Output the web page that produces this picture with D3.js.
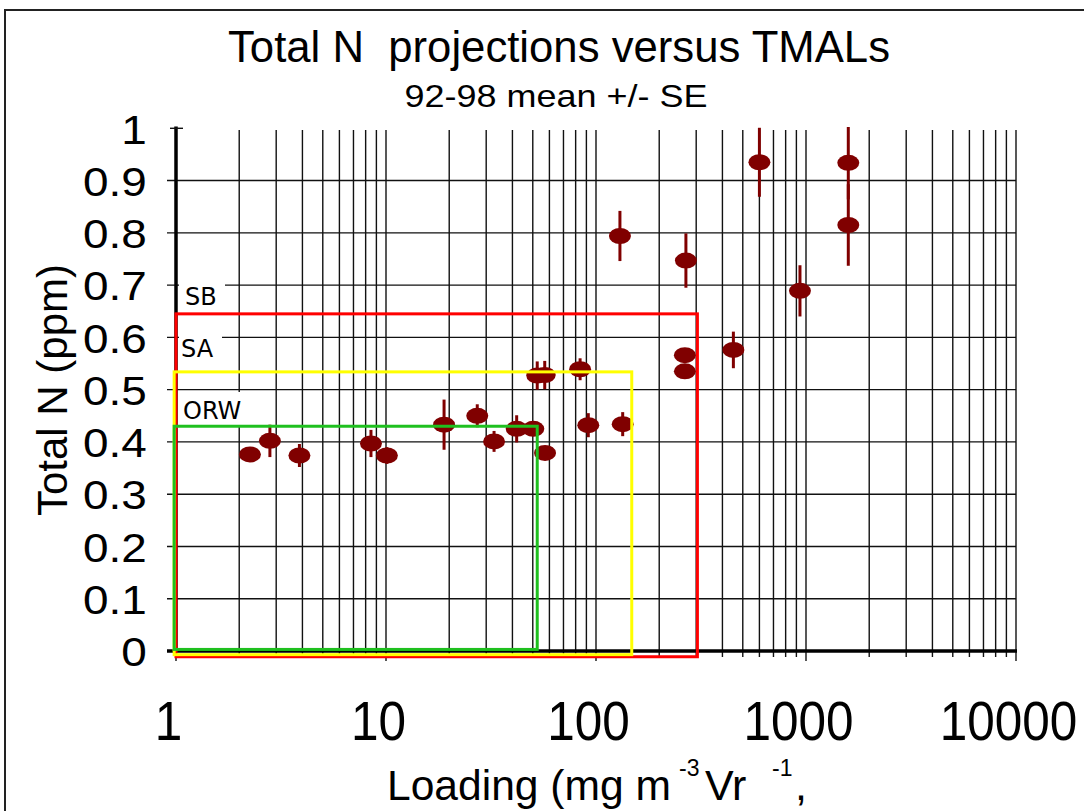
<!DOCTYPE html>
<html>
<head>
<meta charset="utf-8">
<script src="https://cdn.jsdelivr.net/npm/d3@7"></script>
<style>
  body { margin: 0; background: #fff; }
  svg { display: block; font-family: "Liberation Sans", Arial, sans-serif; }
</style>
</head>
<body>
<div id="chart"></div>
<script>
// data: loading (x), mean total N (y), standard error
var loading = [2.25, 2.8, 3.87, 8.48, 10.1, 18.9, 27.2, 32.7, 41.9, 50.3, 57.2,
               52.5, 57, 84, 91.9, 134, 130, 265, 265, 268, 451, 600, 936, 1590, 1590];
var totalN  = [0.376, 0.402, 0.374, 0.397, 0.374, 0.433, 0.45, 0.401, 0.425, 0.425, 0.379,
               0.527, 0.528, 0.539, 0.432, 0.434, 0.794, 0.566, 0.535, 0.747, 0.576, 0.935, 0.689, 0.934, 0.815];
var stdErr  = [0.012, 0.031, 0.022, 0.026, 0.016, 0.048, 0.022, 0.02, 0.026, 0.012, 0.01,
               0.027, 0.027, 0.021, 0.023, 0.023, 0.048, 0.01, 0.01, 0.052, 0.035, 0.066, 0.049, 0.07, 0.078];

// criteria boxes (SB, SA, ORW)
var boxNames = ["SB", "SA", "ORW"];
var boxLoadMin = [1, 0.98, 0.98];
var boxLoadMax = [304, 148, 52.5];
var boxNMin = [-0.011, -0.007, 0.003];
var boxNMax = [0.645, 0.534, 0.43];
var boxColors = ["#ff0000", "#ffff00", "#1fc01f"];

var yTicks = [0, 0.1, 0.2, 0.3, 0.4, 0.5, 0.6, 0.7, 0.8, 0.9, 1];
var yTickLabels = ["0", "0.1", "0.2", "0.3", "0.4", "0.5", "0.6", "0.7", "0.8", "0.9", "1"];
var xMajor = [1, 10, 100, 1000, 10000];
var xMajorLabels = ["1", "10", "100", "1000", "10000"];

var width = 1084, height = 811;

var svg = d3.select("#chart").append("svg")
  .attr("width", width)
  .attr("height", height);

svg.append("rect").attr("width", width).attr("height", height).attr("fill", "#fff");

// outer frame (top and left only)
svg.append("path")
  .attr("d", "M5,811 L5,10 L1084,10")
  .attr("fill", "none")
  .attr("stroke", "#222")
  .attr("stroke-width", 2);

var x = d3.scaleLog().domain([1, 10000]).range([176, 1016]);
var y = d3.scaleLinear().domain([0, 1]).range([651, 128.3]);

// vertical grid lines (every minor log tick)
var xGrid = x.ticks();
svg.append("g").selectAll("line")
  .data(xGrid)
  .enter().append("line")
  .attr("x1", function(d) { return x(d); })
  .attr("x2", function(d) { return x(d); })
  .attr("y1", 130)
  .attr("y2", function(d) { return xMajor.indexOf(d) >= 0 ? 661 : 657; })
  .attr("stroke", "#111")
  .attr("stroke-width", 1.4);

// horizontal grid lines
svg.append("g").selectAll("line")
  .data(yTicks.slice(1, 10))
  .enter().append("line")
  .attr("x1", 167)
  .attr("x2", 1016)
  .attr("y1", function(d) { return y(d); })
  .attr("y2", function(d) { return y(d); })
  .attr("stroke", "#111")
  .attr("stroke-width", 1.4);

// axis lines
svg.append("line")
  .attr("x1", 176).attr("x2", 176)
  .attr("y1", 126.5).attr("y2", 652)
  .attr("stroke", "#000").attr("stroke-width", 3.5);
svg.append("line")
  .attr("x1", 170).attr("x2", 183)
  .attr("y1", y(1)).attr("y2", y(1))
  .attr("stroke", "#111").attr("stroke-width", 1.4);
svg.append("line")
  .attr("x1", 167).attr("x2", 1017)
  .attr("y1", y(0)).attr("y2", y(0))
  .attr("stroke", "#000").attr("stroke-width", 3.5);

// y tick labels
var yAxis = svg.append("g")
  .attr("transform", "translate(176,0)")
  .call(d3.axisLeft(y).tickValues(yTicks).tickSize(0)
    .tickFormat(function(d, i) { return yTickLabels[i]; }));
yAxis.select(".domain").remove();
yAxis.selectAll("text")
  .attr("x", -26)
  .attr("dy", "0.36em")
  .attr("transform", "scale(1.12,1)")
  .style("font-family", "'Liberation Sans', Arial, sans-serif")
  .style("font-size", "41px")
  .attr("fill", "#000");

// x tick labels
var xAxis = svg.append("g")
  .attr("transform", "translate(0,651)")
  .call(d3.axisBottom(x).tickValues(xMajor).tickSize(0)
    .tickFormat(function(d, i) { return xMajorLabels[i]; }));
xAxis.select(".domain").remove();
xAxis.selectAll("text")
  .attr("x", -8 / 0.9)
  .attr("y", 89)
  .attr("dy", 0)
  .attr("transform", "scale(0.9,1)")
  .style("font-family", "'Liberation Sans', Arial, sans-serif")
  .style("font-size", "55px")
  .attr("fill", "#000");

// white backing behind the box labels
var labelBacks = [[179, 279, 46, 31], [179, 331, 43, 37], [179, 392, 74, 33]];
svg.append("g").selectAll("rect")
  .data(labelBacks)
  .enter().append("rect")
  .attr("x", function(d) { return d[0]; })
  .attr("y", function(d) { return d[1]; })
  .attr("width", function(d) { return d[2]; })
  .attr("height", function(d) { return d[3]; })
  .attr("fill", "#fff");

// box labels sit above each box
var labelX = [185, 181, 183];
var labelY = [305, 357, 419];
svg.append("g").selectAll("text")
  .data(boxNames)
  .enter().append("text")
  .attr("x", function(d, i) { return labelX[i]; })
  .attr("y", function(d, i) { return labelY[i]; })
  .style("font-family", "'DejaVu Sans', sans-serif")
  .style("font-size", "24px")
  .attr("fill", "#000")
  .text(function(d) { return d; });

// data points with error bars
var pts = loading.map(function(d, i) {
  return { x: d, y: totalN[i], se: stdErr[i] };
});

svg.append("clipPath").attr("id", "plotClip")
  .append("rect").attr("x", 160).attr("y", 127).attr("width", 900).attr("height", 560);

var pg = svg.append("g").attr("clip-path", "url(#plotClip)");
pg.selectAll("line.err")
  .data(pts)
  .enter().append("line")
  .attr("class", "err")
  .attr("x1", function(d) { return x(d.x); })
  .attr("x2", function(d) { return x(d.x); })
  .attr("y1", function(d) { return y(d.y + d.se); })
  .attr("y2", function(d) { return y(d.y - d.se); })
  .attr("stroke", "#800000")
  .attr("stroke-width", 3);
pg.selectAll("ellipse")
  .data(pts)
  .enter().append("ellipse")
  .attr("cx", function(d) { return x(d.x); })
  .attr("cy", function(d) { return y(d.y); })
  .attr("rx", 11)
  .attr("ry", 8)
  .attr("fill", "#800000");

// criteria boxes
svg.append("g").selectAll("rect")
  .data(boxNames)
  .enter().append("rect")
  .attr("x", function(d, i) { return x(boxLoadMin[i]); })
  .attr("y", function(d, i) { return y(boxNMax[i]); })
  .attr("width", function(d, i) { return x(boxLoadMax[i]) - x(boxLoadMin[i]); })
  .attr("height", function(d, i) { return y(boxNMin[i]) - y(boxNMax[i]); })
  .attr("fill", "none")
  .attr("stroke", function(d, i) { return boxColors[i]; })
  .attr("stroke-width", 3);

// titles
svg.append("text")
  .attr("x", 559).attr("y", 62)
  .attr("text-anchor", "middle")
  .style("font-size", "45px")
  .style("white-space", "pre")
  .attr("textLength", 662)
  .attr("lengthAdjust", "spacingAndGlyphs")
  .text("Total N  projections versus TMALs");

svg.append("text")
  .attr("x", 556).attr("y", 107)
  .attr("text-anchor", "middle")
  .style("font-size", "32px")
  .attr("textLength", 303)
  .attr("lengthAdjust", "spacingAndGlyphs")
  .text("92-98 mean +/- SE");

svg.append("text")
  .attr("transform", "translate(67,390) rotate(-90)")
  .attr("text-anchor", "middle")
  .style("font-size", "42px")
  .text("Total N (ppm)");

// x title pieces placed where they sit in the picture
var xt = svg.append("text")
  .attr("y", 800)
  .style("font-size", "43px");
xt.append("tspan").attr("x", 387).attr("textLength", 284)
  .attr("lengthAdjust", "spacingAndGlyphs").text("Loading (mg m");
xt.append("tspan").attr("x", 679).attr("dy", -24).style("font-size", "23px").text("-3");
xt.append("tspan").attr("x", 705).attr("dy", 24).text("Vr");
xt.append("tspan").attr("x", 772).attr("dy", -24).style("font-size", "23px").text("-1");
xt.append("tspan").attr("x", 795).attr("dy", 24).text(",");
</script>
</body>
</html>
